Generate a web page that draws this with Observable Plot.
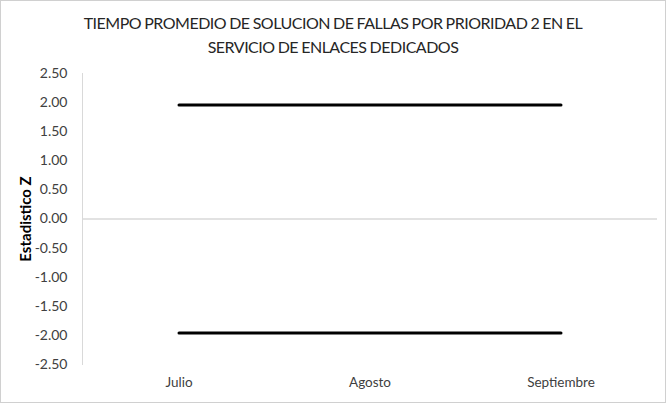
<!DOCTYPE html>
<html>
<head>
<meta charset="utf-8">
<script src="https://cdn.jsdelivr.net/npm/d3@7"></script>
<script src="https://cdn.jsdelivr.net/npm/@observablehq/plot@0.6"></script>
<style>
  body { margin: 0; background: #fff; }
  #box { position: relative; width: 664px; height: 401px; border: 1px solid #d0d0d0; background: #fff; overflow: hidden; }
  #title { position: absolute; left: 0; top: 10px; width: 664px; text-align: center; font-family: Lato, sans-serif; font-size: 16px; line-height: 24px; color: #262626; letter-spacing: -0.5px; word-spacing: -0.5px; }
  #chart { position: absolute; left: 0; top: 55px; }
</style>
</head>
<body>
<div id="box">
  <div id="title">TIEMPO PROMEDIO DE SOLUCION DE FALLAS POR PRIORIDAD 2 EN EL<br>SERVICIO DE ENLACES DEDICADOS</div>
  <div id="chart"></div>
</div>
<script>
const months = ["Julio", "Agosto", "Septiembre"];
const upperZ = [1.96, 1.96, 1.96];
const lowerZ = [-1.96, -1.96, -1.96];
const yTicks = [-2.5, -2, -1.5, -1, -0.5, 0, 0.5, 1, 1.5, 2, 2.5];
const yLabel = "Estadistico Z";

const upper = months.map((m, i) => ({month: m, z: upperZ[i]}));
const lower = months.map((m, i) => ({month: m, z: lowerZ[i]}));

const chart = Plot.plot({
  width: 664,
  height: 346,
  marginLeft: 81,
  marginRight: 8,
  marginTop: 17,
  marginBottom: 38,
  style: {fontFamily: "Lato, sans-serif", fontSize: "13.5px", color: "#404040", background: "transparent"},
  x: {type: "band", domain: months, padding: 0, label: null},
  y: {domain: [-2.5, 2.5], label: null},
  marks: [
    Plot.ruleY([0], {stroke: "#d9d9d9", strokeWidth: 1.5}),
    Plot.frame({anchor: "left", stroke: "#d9d9d9", strokeWidth: 1}),
    Plot.axisY({ticks: yTicks, tickFormat: d => d.toFixed(2), tickSize: 0, tickPadding: 15, fontSize: 14, label: null}),
    Plot.axisX({tickSize: 0, tickPadding: 13, label: null}),
    Plot.text([yLabel], {frameAnchor: "left", textAnchor: "middle", text: d => d, rotate: -90, dx: -56, fontWeight: "bold", fontSize: 15, fill: "#000"}),
    Plot.line(upper, {x: "month", y: "z", stroke: "#000", strokeWidth: 3}),
    Plot.line(lower, {x: "month", y: "z", stroke: "#000", strokeWidth: 3})
  ]
});
document.getElementById("chart").appendChild(chart);
</script>
</body>
</html>
